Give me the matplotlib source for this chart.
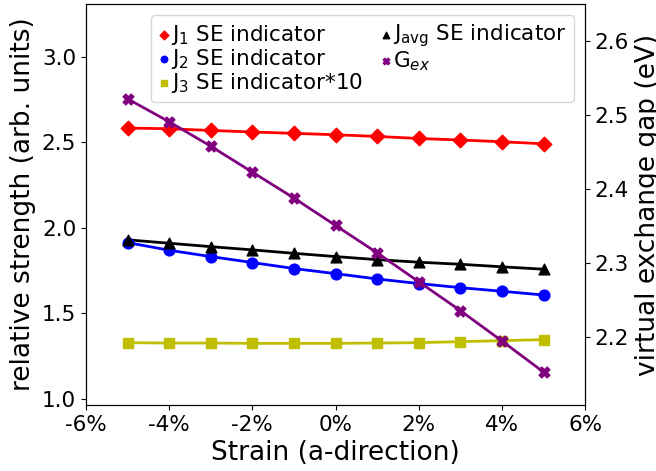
import matplotlib
matplotlib.use('Agg')
import matplotlib.pyplot as plt
from matplotlib.ticker import FuncFormatter

# strain in percent
strain = [-5, -4, -3, -2, -1, 0, 1, 2, 3, 4, 5]

J1 = [2.584, 2.580, 2.570, 2.561, 2.553, 2.545, 2.535, 2.523, 2.514, 2.504, 2.492]
J2 = [1.914, 1.869, 1.832, 1.797, 1.762, 1.732, 1.701, 1.674, 1.650, 1.629, 1.607]
J3x10 = [1.328, 1.326, 1.326, 1.324, 1.324, 1.324, 1.326, 1.328, 1.334, 1.340, 1.346]
Javg = [1.930, 1.910, 1.890, 1.871, 1.851, 1.832, 1.814, 1.799, 1.787, 1.772, 1.758]
Gex = [2.522, 2.491, 2.458, 2.423, 2.388, 2.351, 2.314, 2.275, 2.236, 2.195, 2.153]

xticks = [-6, -4, -2, 0, 2, 4, 6]

fs_tick = 15.5
fs_lab = 19
fig = plt.figure(figsize=(6.56, 4.71), dpi=100)
ax = fig.add_subplot(111)
fig.subplots_adjust(left=0.131, right=0.892, top=0.9915, bottom=0.140)

ax.plot(strain, J1, color='red', lw=2)
s1 = ax.scatter(strain, J1, color='red', marker='D', s=55, zorder=3, label=r'J$_1$ SE indicator')
ax.plot(strain, J2, color='blue', lw=2)
s2 = ax.scatter(strain, J2, color='blue', marker='o', s=60, zorder=3, label=r'J$_2$ SE indicator')
ax.plot(strain, J3x10, color='y', lw=2)
s3 = ax.scatter(strain, J3x10, color='y', marker='s', s=60, zorder=3, label=r'J$_3$ SE indicator*10')
ax.plot(strain, Javg, color='black', lw=2)
s4 = ax.scatter(strain, Javg, color='black', marker='^', s=60, zorder=3, label=r'J$_{\rm avg}$ SE indicator')

ax2 = ax.twinx()
ax2.plot(strain, Gex, color='purple', lw=2)
s5 = ax2.scatter(strain, Gex, color='purple', marker='X', s=60, zorder=3, label=r'G$_{ex}$')

ax.set_xlim(-6, 6)
ax.set_ylim(0.963, 3.31)
ax2.set_ylim(2.1085, 2.650)
ax.set_xticks(xticks)
ax.xaxis.set_major_formatter(FuncFormatter(lambda v, p: '%d%%' % v))
ax.set_yticks([1.0, 1.5, 2.0, 2.5, 3.0])
ax2.set_yticks([2.2, 2.3, 2.4, 2.5, 2.6])

ax.tick_params(labelsize=fs_tick)
ax2.tick_params(labelsize=fs_tick)
ax.set_xlabel('Strain (a-direction)', fontsize=fs_lab)
ax.set_ylabel('relative strength (arb. units)', fontsize=fs_lab)
ax2.set_ylabel('virtual exchange gap (eV)', fontsize=fs_lab)

ax2.legend([s1, s2, s3, s4, s5],
           [s.get_label() for s in [s1, s2, s3, s4, s5]],
           loc='upper right', ncol=2, fontsize=fs_tick, handlelength=0.5,
           handletextpad=0.1, columnspacing=0.8, labelspacing=0.0,
           borderpad=0.35, markerscale=0.6)

fig.savefig('out.png', dpi=100)
